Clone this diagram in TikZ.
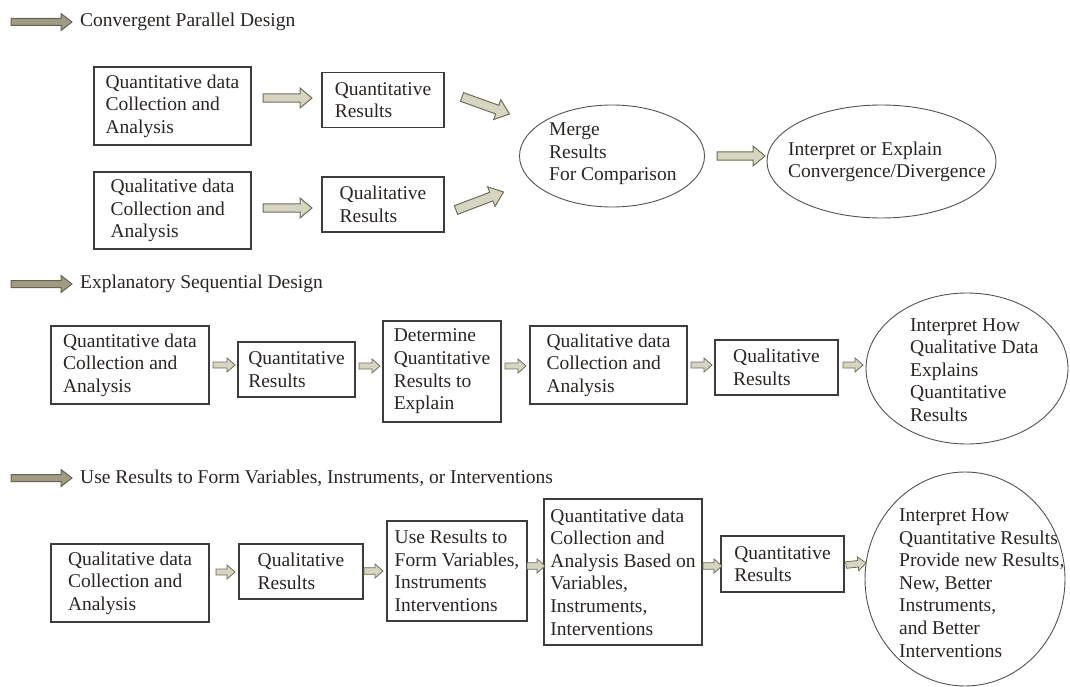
\documentclass[tikz,border=0pt]{standalone}
\usepackage{fontspec}
\setmainfont{Liberation Serif}
\usetikzlibrary{calc,shapes.geometric}

\definecolor{ink}{HTML}{2A2522}
\definecolor{boxline}{HTML}{3E3B38}
\definecolor{ovalline}{HTML}{55524E}
\definecolor{headfill}{HTML}{A09B85}
\definecolor{headline}{HTML}{66624F}
\definecolor{flowfill}{HTML}{D6D5C1}
\definecolor{flowline}{HTML}{6E6C5B}

% block arrow: #1 style, #2 tail, #3 tip, #4 half shaft, #5 half head, #6 head length
\newcommand\flowarrow[6]{%
  \coordinate (fa-base) at ($(#3)!#6!(#2)$);
  \draw[#1] ($(#2)!#4!90:(#3)$) -- ($(fa-base)!#4!90:(#3)$)
    -- ($(fa-base)!#5!90:(#3)$) -- (#3)
    -- ($(fa-base)!#5!-90:(#3)$) -- ($(fa-base)!#4!-90:(#3)$)
    -- ($(#2)!#4!-90:(#3)$) -- cycle;
}

\begin{document}
\begin{tikzpicture}[x=1pt,y=-1pt,
  every node/.style={text=ink, font=\fontsize{19.5}{22.6}\selectfont},
  box/.style={rectangle, draw=boxline, line width=1.3pt, align=left,
    inner sep=0pt, outer sep=0pt},
  oval/.style={ellipse, draw=ovalline, line width=0.9pt, inner sep=0pt, outer sep=0pt},
  caption/.style={align=left, inner sep=0pt, anchor=west},
  headarrow/.style={fill=headfill, draw=headline, line width=1pt},
  bigflow/.style={fill=flowfill, draw=flowline, line width=1pt},
  smallflow/.style={fill=flowfill, draw=flowline, line width=0.8pt},
]
\useasboundingbox (0,0) rectangle (1070,687);

% ---------- Convergent parallel design ----------
\node[caption] (H1) at (80,22) {Convergent Parallel Design};
\coordinate (H1a) at ($(H1.west)+(-69,0)$);
\coordinate (H1b) at ($(H1.west)+(-8,0)$);
\flowarrow{headarrow}{H1a}{H1b}{3.5pt}{8.5pt}{11pt}

\node[box, minimum width=157pt, minimum height=78pt] (A1) at (172.5,106)
  {Quantitative data\\Collection and\\Analysis};
\node[box, minimum width=122pt, minimum height=55pt] (A2) at (383,100)
  {Quantitative\\Results};
\node[box, minimum width=157pt, minimum height=77pt] (B1) at (172.5,210.5)
  {Qualitative data\\Collection and\\Analysis};
\node[box, minimum width=122pt, minimum height=55pt] (B2) at (383,204.5)
  {Qualitative\\Results};
\node[oval, minimum width=185pt, minimum height=102pt] (M) at (612,156) {};
\node[caption] (Mt) at (549,154) {Merge\\Results\\For Comparison};
\node[oval, minimum width=229pt, minimum height=113pt] (I) at (881.5,161.5) {};
\node[caption] (It) at (788,162) {Interpret or Explain\\Convergence/Divergence};

\coordinate (a1) at ($(A1.east)+(12,-8)$);
\coordinate (a2) at ($(A2.west)+(-10,-2)$);
\flowarrow{bigflow}{a1}{a2}{4.2pt}{10pt}{12pt}
\coordinate (b1) at ($(B1.east)+(12,-2.5)$);
\coordinate (b2) at ($(B2.west)+(-10,3.5)$);
\flowarrow{bigflow}{b1}{b2}{4.2pt}{10pt}{12pt}
\coordinate (am1) at ($(A2.east)+(18,-3)$);
\coordinate (am2) at ($(M.west)+(-10,-42)$);
\flowarrow{bigflow}{am1}{am2}{4.6pt}{10.5pt}{13pt}
\coordinate (bm1) at ($(B2.east)+(12,5.5)$);
\coordinate (bm2) at ($(M.west)+(-16,36)$);
\flowarrow{bigflow}{bm1}{bm2}{4.6pt}{10.5pt}{13pt}
\coordinate (mi1) at ($(M.east)+(12.5,0)$);
\coordinate (mi2) at ($(I.west)+(-2,-5.5)$);
\flowarrow{bigflow}{mi1}{mi2}{4.2pt}{10pt}{12pt}

% ---------- Explanatory sequential design ----------
\node[caption] (H2) at (80,284) {Explanatory Sequential Design};
\coordinate (H2a) at ($(H2.west)+(-69,0)$);
\coordinate (H2b) at ($(H2.west)+(-8,0)$);
\flowarrow{headarrow}{H2a}{H2b}{3.5pt}{8.5pt}{11pt}

\node[box, minimum width=158pt, minimum height=78pt] (C1) at (130,365)
  {Quantitative data\\Collection and\\Analysis};
\node[box, minimum width=117pt, minimum height=55pt] (C2) at (296.5,369.5)
  {Quantitative\\Results};
\node[box, minimum width=118pt, minimum height=101pt] (C3) at (442,371.5)
  {Determine\\Quantitative\\Results to\\Explain};
\node[box, minimum width=157pt, minimum height=78pt] (C4) at (608.5,365)
  {Qualitative data\\Collection and\\Analysis};
\node[box, minimum width=123pt, minimum height=55pt] (C5) at (776.5,367.5)
  {Qualitative\\Results};
\node[oval, minimum width=202pt, minimum height=151pt] (E2) at (967,368.5) {};
\node[caption] (E2t) at (910,370)
  {Interpret How\\Qualitative Data\\Explains\\Quantitative\\Results};

\coordinate (c12a) at ($(C1.east)+(4,0)$);
\coordinate (c12b) at ($(C2.west)+(-3,-4.5)$);
\flowarrow{smallflow}{c12a}{c12b}{3pt}{7pt}{8pt}
\coordinate (c23a) at ($(C2.east)+(4,-3.5)$);
\coordinate (c23b) at ($(C3.west)+(-3,-5.5)$);
\flowarrow{smallflow}{c23a}{c23b}{3pt}{7pt}{8pt}
\coordinate (c34a) at ($(C3.east)+(4,-5.5)$);
\coordinate (c34b) at ($(C4.west)+(-4,1)$);
\flowarrow{smallflow}{c34a}{c34b}{3pt}{7pt}{8pt}
\coordinate (c45a) at ($(C4.east)+(4,0)$);
\coordinate (c45b) at ($(C5.west)+(-3,-2.5)$);
\flowarrow{smallflow}{c45a}{c45b}{3pt}{7pt}{8pt}
\coordinate (c5ea) at ($(C5.east)+(5,-2.5)$);
\coordinate (c5eb) at ($(E2.west)+(-3,-3.5)$);
\flowarrow{smallflow}{c5ea}{c5eb}{3pt}{7pt}{8pt}

% ---------- Results used to form variables ----------
\node[caption] (H3) at (80,478)
  {Use Results to Form Variables, Instruments, or Interventions};
\coordinate (H3a) at ($(H3.west)+(-69,0)$);
\coordinate (H3b) at ($(H3.west)+(-8,0)$);
\flowarrow{headarrow}{H3a}{H3b}{3.5pt}{8.5pt}{11pt}

\node[box, minimum width=158pt, minimum height=78pt] (D1) at (130,583)
  {Qualitative data\\Collection and\\Analysis};
\node[box, minimum width=124pt, minimum height=55pt] (D2) at (301,571.5)
  {Qualitative\\Results};
\node[box, minimum width=140pt, minimum height=100pt] (D3) at (457,571)
  {Use Results to\\Form Variables,\\Instruments\\Interventions};
\node[box, minimum width=158pt, minimum height=146pt] (D4) at (623,572)
  {Quantitative data\\Collection and\\Analysis Based on\\Variables,\\Instruments,\\Interventions};
\node[box, minimum width=123pt, minimum height=56pt] (D5) at (782.5,564)
  {Quantitative\\Results};
\node[oval, minimum width=200pt, minimum height=214pt] (E3) at (965,579) {};
\node[caption] (E3t) at (899,583)
  {Interpret How\\Quantitative Results\\Provide new Results,\\New, Better\\Instruments,\\and Better\\Interventions};

\coordinate (d12a) at ($(D1.east)+(7,-11)$);
\coordinate (d12b) at ($(D2.west)+(-4,0.5)$);
\flowarrow{smallflow}{d12a}{d12b}{3pt}{7pt}{8pt}
\coordinate (d23a) at ($(D2.east)+(1,-0.5)$);
\coordinate (d23b) at ($(D3.west)+(-4,0)$);
\flowarrow{smallflow}{d23a}{d23b}{3.3pt}{7pt}{8pt}
\coordinate (d34a) at ($(D3.east)+(0,-5)$);
\coordinate (d34b) at ($(D4.west)+(1,-6)$);
\flowarrow{smallflow}{d34a}{d34b}{3.3pt}{7pt}{8pt}
\coordinate (d45a) at ($(D4.east)+(1,-6)$);
\coordinate (d45b) at ($(D5.west)+(1,2)$);
\flowarrow{smallflow}{d45a}{d45b}{3.3pt}{7pt}{8pt}
\coordinate (d5ea) at ($(D5.east)+(2,1)$);
\coordinate (d5eb) at ($(E3.west)+(1,-16)$);
\flowarrow{smallflow}{d5ea}{d5eb}{3.3pt}{7pt}{8pt}
\end{tikzpicture}
\end{document}
